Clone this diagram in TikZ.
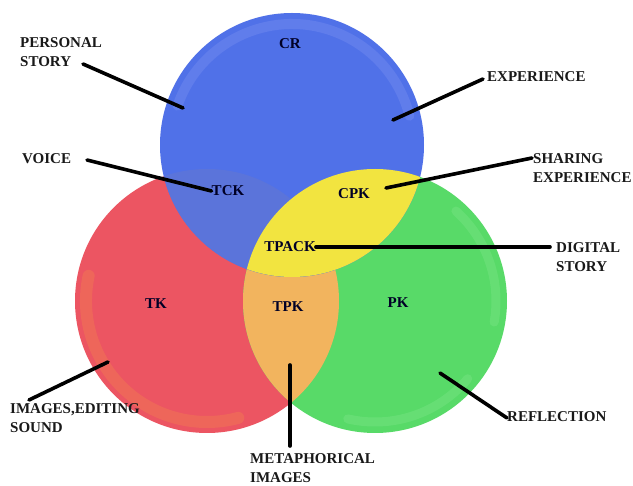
\documentclass[tikz,border=0pt]{standalone}
\usepackage{fontspec}
\setmainfont{Liberation Serif}
\begin{document}
\begin{tikzpicture}[x=1pt,y=-1pt,
  lbl/.style={font=\fontsize{15}{19.5}\selectfont\bfseries, text=black!90, inner sep=0pt, align=left, anchor=north west},
  inlbl/.style={font=\fontsize{15}{17}\selectfont\bfseries, text=black!85!blue, inner sep=0pt},
  conn/.style={line width=3.6pt, line cap=round, black}]
\definecolor{cblue}{HTML}{5071E8}
\definecolor{cbluered}{HTML}{5B74DA}
\definecolor{cred}{HTML}{EC5562}
\definecolor{cgreen}{HTML}{58DA68}
\definecolor{cyellow}{HTML}{F2E440}
\definecolor{corange}{HTML}{F2B45E}
\definecolor{credband}{HTML}{EF6C58}
\definecolor{cblueband}{HTML}{6B85EE}
\definecolor{cgreenband}{HTML}{72E37F}
\useasboundingbox (0,0) rectangle (633,486);
\fill[white] (0,0) rectangle (633,486);
% circles
\coordinate (B) at (292,145);
\coordinate (R) at (207,301);
\coordinate (G) at (375,301);
\fill[cred] (R) circle[radius=132];
\fill[cgreen] (G) circle[radius=132];
% bands red / green
\draw[credband, line width=12pt, line cap=round, opacity=0.75] ([shift={(192:121)}]R) arc[start angle=192, end angle=75, radius=121];
\draw[cgreenband, line width=9pt, line cap=round, opacity=0.55] ([shift={(-48:121)}]G) arc[start angle=-48, end angle=10, radius=121];
\draw[cgreenband, line width=9pt, line cap=round, opacity=0.55] ([shift={(40:121)}]G) arc[start angle=40, end angle=103, radius=121];
\begin{scope}
  \clip (R) circle[radius=132];
  \fill[corange] (G) circle[radius=132];
\end{scope}
\fill[cblue] (B) circle[radius=132];
\begin{scope}
  \clip (B) circle[radius=132];
  \fill[cbluered] (R) circle[radius=132];
  \fill[cyellow] (G) circle[radius=132];
\end{scope}
\draw[cblueband, line width=10pt, line cap=round, opacity=0.6] ([shift={(199:121)}]B) arc[start angle=199, end angle=346, radius=121];
% inner labels
\node[inlbl] (cr) at (290,44) {CR};
\node[inlbl] (tck) at (228,191) {TCK};
\node[inlbl] (cpk) at (354,194) {CPK};
\node[inlbl] (tpack) at (290,247) {TPACK};
\node[inlbl] (tk) at (156,304) {TK};
\node[inlbl] (tpk) at (288,307) {TPK};
\node[inlbl] (pk) at (398,303) {PK};
% outer labels
\node[lbl] (personal) at (20,37) {PERSONAL\\STORY};
\node[lbl] (experience) at (487,71) {EXPERIENCE};
\node[lbl] (voice) at (22,153) {VOICE};
\node[lbl] (sharing) at (533,153) {SHARING\\EXPERIENCE};
\node[lbl] (digital) at (556,242) {DIGITAL\\STORY};
\node[lbl] (images) at (10,403) {IMAGES,EDITING\\SOUND};
\node[lbl] (metaphor) at (250,453) {METAPHORICAL\\IMAGES};
\node[lbl] (reflection) at (507,411) {REFLECTION};
% connector ends
\coordinate (pA) at (83,64);   \coordinate (pB) at (183,108);
\coordinate (vA) at (87,160);
\coordinate (eA) at (483,79);  \coordinate (eB) at (393,120);
\coordinate (sA) at (532,158); \coordinate (sB) at (386,188);
\coordinate (dA) at (550,247);
\coordinate (iA) at (29,400);  \coordinate (iB) at (108,362);
\coordinate (mA) at (290,446); \coordinate (mB) at (290,365);
\coordinate (rA) at (507,418); \coordinate (rB) at (440,373);
\draw[conn] (pA) -- (pB);
\draw[conn] (vA) -- (tck.west);
\draw[conn] (eA) -- (eB);
\draw[conn] (sA) -- (sB);
\draw[conn] (dA) -- (tpack.east);
\draw[conn] (iA) -- (iB);
\draw[conn] (mA) -- (mB);
\draw[conn] (rA) -- (rB);
\end{tikzpicture}
\end{document}
